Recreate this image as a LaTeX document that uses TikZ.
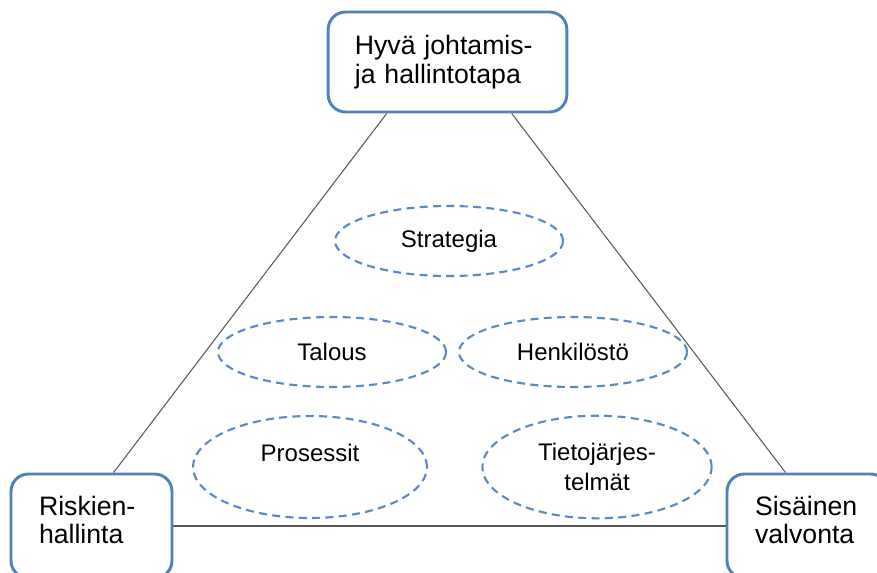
\documentclass[tikz,border=0pt]{standalone}
\usepackage{fontspec}
\setmainfont{Liberation Sans}
\usetikzlibrary{shapes.geometric,calc}
\definecolor{kehys}{HTML}{4F81BD}
\definecolor{katko}{HTML}{5A8AC6}
\tikzset{
  laatikko/.style={draw=kehys, line width=2.2pt, rounded corners=13pt, fill=white,
    align=left, inner xsep=21pt, inner ysep=0pt,
    font=\fontsize{20pt}{21.5pt}\selectfont},
  kupla/.style={ellipse, draw=katko, line width=1.6pt, dash pattern=on 6pt off 4pt,
    inner sep=0pt, minimum width=171pt, minimum height=52.5pt, align=center,
    font=\fontsize{18pt}{22pt}\selectfont},
  viiva/.style={draw=black!65, line width=0.8pt}
}
\begin{document}
\begin{tikzpicture}[x=0.75pt,y=-0.75pt]
\clip (0,0) rectangle (877,572);
% kulmat
\node[laatikko, text width=139pt, minimum height=75pt, inner xsep=20pt] (hyva) at (447.5,62) {Hyvä johtamis-\\ja hallintotapa};
\node[laatikko, text width=78.75pt, minimum height=78pt, text depth=31pt] (riski) at (91.5,526) {Riskien-\\hallinta};
\node[laatikko, text width=78.75pt, minimum height=78pt, text depth=31pt] (sisa) at (807.5,526) {Sisäinen\\valvonta};
% kolmion sivut
\draw[viiva] ($(hyva.south west)+(60,0)$) -- ($(riski.north west)+(104,0)$);
\draw[viiva] ($(hyva.south west)+(185,0)$) -- ($(sisa.north west)+(60,0)$);
\draw[viiva] (riski) -- (sisa);
% osa-alueet
\node[kupla] (strategia) at (449,241) {Strategia};
\node[kupla] (talous) at (332,352) {Talous};
\node[kupla] (henkilosto) at (573,352) {Henkilöstö};
\node[kupla, minimum width=175.5pt, minimum height=76.5pt] (prosessit) at (310,467) {Prosessit\\~};
\node[kupla, minimum width=172pt, minimum height=77pt] (tieto) at (597,467) {Tietojärjes-\\telmät};
\end{tikzpicture}
\end{document}
